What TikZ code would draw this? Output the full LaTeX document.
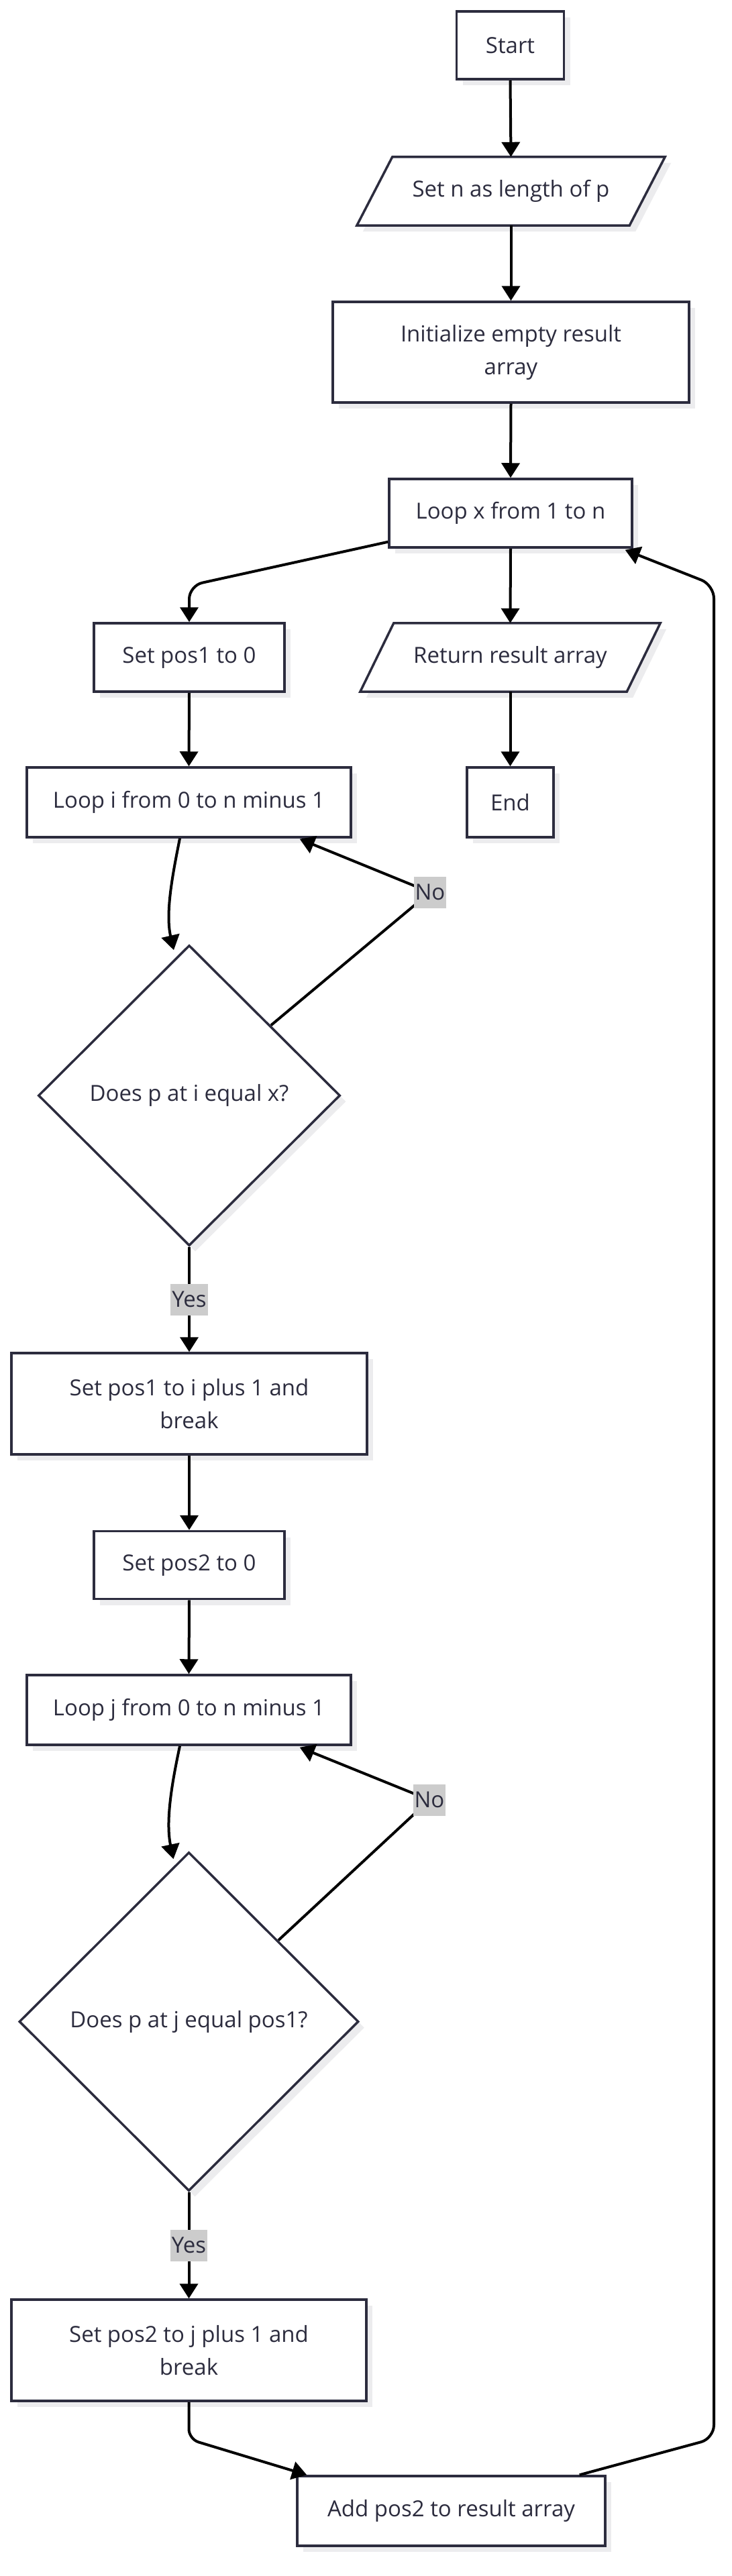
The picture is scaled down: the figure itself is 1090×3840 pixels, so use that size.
\documentclass[tikz,border=0pt]{standalone}
\usepackage{fontspec}
\setmainfont{Open Sans}
\usetikzlibrary{shapes.geometric,arrows.meta,calc,shadows}
\definecolor{txt}{RGB}{44,44,62}
\definecolor{bord}{RGB}{44,44,62}
\definecolor{shc}{RGB}{236,236,238}
\definecolor{labc}{RGB}{204,204,204}
\pgfdeclarelayer{bg}
\pgfsetlayers{bg,main}
\newcommand\paraframe[2]{%
  \begin{pgfonlayer}{bg}
  \fill[shc] ($(#1.south west)+(-#2+9,9)$) -- ($(#1.north west)+(#2+9,9)$) -- ($(#1.north east)+(#2+9,9)$) -- ($(#1.south east)+(-#2+9,9)$) -- cycle;
  \draw[draw=bord, line width=3.5pt, fill=white] ($(#1.south west)+(-#2,0)$) -- ($(#1.north west)+(#2,0)$) -- ($(#1.north east)+(#2,0)$) -- ($(#1.south east)+(-#2,0)$) -- cycle;
  \end{pgfonlayer}}
\begin{document}
\begin{tikzpicture}[x=1pt,y=-1pt,
  every node/.style={font=\fontsize{33}{49}\selectfont, text=txt, inner sep=0pt, align=center},
  shad/.style={drop shadow={shadow xshift=9pt, shadow yshift=-9pt, fill=shc, opacity=1}},
  proc/.style={rectangle, draw=bord, line width=3.5pt, fill=white, shad},
  dec/.style={diamond, draw=bord, line width=3.5pt, fill=white, shad},
  io/.style={rectangle, draw=none},
  arr/.style={line width=4pt, draw=black, -{Triangle[length=22pt,width=27pt]}},
  lab/.style={fill=labc, inner xsep=2pt, minimum height=47pt}
]
\useasboundingbox (0,0) rectangle (1090,3840);
\begin{pgfonlayer}{bg}
\fill[white] (0,0) rectangle (1090,3840);
\end{pgfonlayer}

% nodes
\node[proc, minimum width=160pt, minimum height=101pt] (start) at (760.5,67.5) {Start};
\node[io, minimum width=406pt, minimum height=102pt] (setn) at (761.5,285) {Set n as length of p};
\paraframe{setn}{26.5}
\node[proc, minimum width=531pt, minimum height=150pt] (init) at (761.5,525) {Initialize empty result\\array};
\node[proc, minimum width=362pt, minimum height=102pt] (lx) at (761,765) {Loop x from 1 to n};
\node[proc, minimum width=284pt, minimum height=102pt] (sp1) at (282,980) {Set pos1 to 0};
\node[io, minimum width=397pt, minimum height=102pt] (ret) at (760.5,980) {Return result array};
\paraframe{ret}{25}
\node[proc, minimum width=483pt, minimum height=104pt] (lpi) at (281.5,1196) {Loop i from 0 to n minus 1};
\node[proc, minimum width=129pt, minimum height=104pt] (endn) at (760.5,1196) {End};
\node[dec, minimum width=450pt, minimum height=448pt] (d1) at (282,1633) {Does p at i equal x?};
\node[proc, minimum width=530pt, minimum height=151pt] (sp1i) at (282,2092.5) {Set pos1 to i plus 1 and\\break};
\node[proc, minimum width=284pt, minimum height=101pt] (sp2) at (282,2333) {Set pos2 to 0};
\node[proc, minimum width=483pt, minimum height=104pt] (lj) at (281.5,2549) {Loop j from 0 to n minus 1};
\node[dec, minimum width=506pt, minimum height=505pt] (d2) at (281.5,3013.5) {Does p at j equal pos1?};
\node[proc, minimum width=529pt, minimum height=151pt] (spj) at (281.5,3503.5) {Set pos2 to j plus 1 and\\break};
\node[proc, minimum width=459pt, minimum height=104pt] (add) at (672.5,3743) {Add pos2 to result array};

% edges
\draw[arr] (start.south) -- (setn.north);
\draw[arr] (setn.south) -- (init.north);
\draw[arr] (init.south) -- (lx.north);
\draw[arr, rounded corners=20pt] ($(lx.south west)+(0,-10)$) -- (282,873) -- (sp1.north);
\draw[arr] (lx.south) -- (ret.north);
\draw[arr] (ret.south) -- (endn.north);
\draw[arr] (sp1.south) -- (lpi.north);
\draw[arr] ($(lpi.south)+(-13.5,0)$) .. controls (258,1300) and (246,1360) .. ($(d1.north)+(-23,9)$);
\draw[arr] ($(d1.north)+(122,121)$) -- (641,1330) node[lab]{No} -- ($(lpi.south east)+(-78,1)$);
\draw[arr] (d1.south) -- node[lab]{Yes} (sp1i.north);
\draw[arr] (sp1i.south) -- (sp2.north);
\draw[arr] (sp2.south) -- (lj.north);
\draw[arr] ($(lj.south)+(-13.5,0)$) .. controls (258,2650) and (246,2712) .. ($(d2.north)+(-23,12)$);
\draw[arr] ($(d2.north)+(133.5,133)$) -- (640,2683) node[lab]{No} -- ($(lj.south east)+(-78,2)$);
\draw[arr] (d2.south) -- node[lab]{Yes} (spj.north);
\draw[arr, rounded corners=15pt] (spj.south) -- (281.5,3636) -- ($(add.north west)+(16,0)$);
\draw[arr, rounded corners=20pt] ($(add.north east)+(-40,0)$) -- (1064,3635) -- (1064,872) -- ($(lx.south east)+(-12,2)$);
\end{tikzpicture}
\end{document}
